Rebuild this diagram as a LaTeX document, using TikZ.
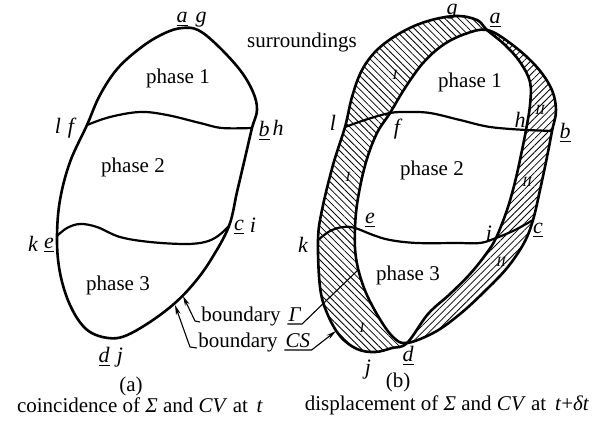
\documentclass[tikz,border=0pt]{standalone}
\usepackage{fontspec}
\setmainfont{Liberation Serif}
\usetikzlibrary{patterns.meta,arrows.meta}

\tikzset{
  outline/.style={line width=1.3pt, line join=round},
  iface/.style={line width=1.1pt},
  ptlabel/.style={font=\fontsize{11}{12}\selectfont\itshape, inner sep=0.5pt},
  phase/.style={font=\fontsize{10.5}{12}\selectfont, inner sep=0.5pt},
  region/.style={font=\fontsize{7}{8}\selectfont\itshape, inner sep=0pt},
  leader/.style={line width=0.55pt},
  hatchone/.style={pattern={Lines[angle=-45,distance=2.4pt,line width=0.4pt]}},
  hatchtwo/.style={pattern={Lines[angle=45,distance=2.4pt,line width=0.4pt]}},
}

% system at t+dt and control volume, closed curves of (b)
\newcommand\sigmacurve{plot[smooth cycle, tension=0.6] coordinates {(487,30) (477,20) (456,16) (428,21) (402,32) (378,49) (362,70) (352,97) (345,127) (333,165) (322,210) (318,240) (320,287) (327,313) (340,336) (357,349) (375,352) (392,348) (407,343) (428,314) (450,294) (470,274) (486,254) (496,238) (507,210) (515,182) (521,155) (526,130) (530,105) (530,82) (520,62) (505,45)}}
\newcommand\cvcurve{plot[smooth cycle, tension=0.6] coordinates {(487,30) (510,43) (535,65) (551,88) (556,110) (552,131) (547,157) (540,190) (533,220) (524,243) (507,268) (484,292) (460,314) (435,332) (407,343) (393,337) (378,316) (364,288) (356,258) (355,228) (358,198) (366,162) (377,133) (390,113) (405,88) (423,63) (443,45) (465,34)}}

\begin{document}
\begin{tikzpicture}[x=0.5pt,y=-0.5pt]
\useasboundingbox (0,0) rectangle (597,422);

% (a) coincidence
\draw[outline] plot[smooth cycle, tension=0.6] coordinates {(87,125) (100,95) (118,68) (143,46) (165,33) (182,28) (198,30) (217,45) (240,70) (253,92) (257,110) (252,128) (245,158) (237,192) (229,226) (212,258) (195,282) (175,303) (150,322) (125,336) (108,338) (90,332) (77,318) (66,295) (59,267) (57,236) (60,200) (70,162)};
\draw[iface] plot[smooth, tension=0.6] coordinates {(87,125) (110,117) (140,112) (167,115) (200,123) (222,128) (252,128)};
\draw[iface] plot[smooth, tension=0.6] coordinates {(57,236) (67,228) (80,224) (97,227) (120,237) (150,242) (185,244) (205,242) (218,236) (229,226)};

\node[ptlabel] (aa) at (182,19) {\underline{a}};
\node[ptlabel] (ag) at (201,20) {g};
\node[ptlabel] (al) at (58,126) {l};
\node[ptlabel] (af) at (71,128) {f};
\node[ptlabel] (ab) at (264,131) {\underline{b}};
\node[ptlabel] (ah) at (278,128) {h};
\node[ptlabel] (ak) at (33,244) {k};
\node[ptlabel] (ae) at (49,245) {\underline{e}};
\node[ptlabel] (ac) at (239,227) {\underline{c}};
\node[ptlabel] (ai) at (253,225) {i};
\node[ptlabel] (ad) at (104,357) {\underline{d}};
\node[ptlabel] (aj) at (120,358) {j};
\node[phase] (aphase1) at (178,78) {phase 1};
\node[phase] (aphase2) at (133,167) {phase 2};
\node[phase] (aphase3) at (118,285) {phase 3};
\node[phase] (surr) at (302,42) {surroundings};

% (b) displacement
\begin{scope}
  \clip (280,0) -- (487,0) -- (487,30) -- (407,343) -- (407,422) -- (280,422) -- cycle;
  \fill[hatchone, even odd rule] \sigmacurve \cvcurve;
\end{scope}
\begin{scope}
  \clip (487,0) -- (597,0) -- (597,422) -- (407,422) -- (407,343) -- (487,30) -- cycle;
  \fill[hatchtwo, even odd rule] \sigmacurve \cvcurve;
\end{scope}
\draw[outline] \sigmacurve;
\draw[outline] \cvcurve;
\draw[iface] plot[smooth, tension=0.6] coordinates {(345,127) (368,119) (390,113) (407,112) (430,113) (460,120) (490,127) (526,130)} -- (552,131);
\draw[iface] plot[smooth, tension=0.6] coordinates {(318,240) (330,231) (343,227) (355,228) (373,235) (390,240) (417,243) (457,243) (480,243) (496,238) (515,230) (533,220)};

\node[ptlabel] (bg) at (452,12) {g};
\node[ptlabel] (ba) at (495,20) {\underline{a}};
\node[ptlabel] (bl) at (333,123) {l};
\node[ptlabel] (bf) at (397,129) {f};
\node[ptlabel] (bh) at (520,120) {h};
\node[ptlabel] (bb) at (565,133) {\underline{b}};
\node[ptlabel] (be) at (370,220) {\underline{e}};
\node[ptlabel] (bk) at (303,245) {k};
\node[ptlabel] (bi) at (489,233) {i};
\node[ptlabel] (bc) at (538,230) {\underline{c}};
\node[ptlabel] (bd) at (408,356) {\underline{d}};
\node[ptlabel] (bj) at (368,370) {j};
\node[phase] (bphase1) at (470,82) {phase 1};
\node[phase] (bphase2) at (432,170) {phase 2};
\node[phase] (bphase3) at (408,275) {phase 3};

\node[region] (r1) at (395,75) {I};
\node[region] (r2) at (348,177) {I};
\node[region] (r3) at (362,328) {I};
\node[region] (r4) at (540,110) {II};
\node[region] (r5) at (527,182) {II};
\node[region] (r6) at (501,262) {II};

% boundary labels with leaders
\node[phase, anchor=base west] (gamtext) at (200,321) {boundary};
\node[phase, anchor=base west, font=\fontsize{10.5}{12}\selectfont\itshape] (gamsym) at ([xshift=2.6pt]gamtext.base east) {Γ};
\node[phase, anchor=base west] (cstext) at (197,347) {boundary};
\node[phase, anchor=base west, font=\fontsize{10.5}{12}\selectfont\itshape] (cssym) at ([xshift=2.6pt]cstext.base east) {CS};
\coordinate (gamtip) at (183,296);
\coordinate (gambend) at (195,0);
\coordinate (gamend) at (358,270);
\coordinate (cstip) at (175,305);
\coordinate (csbend) at (190,0);
\coordinate (csend) at (336,331);

\draw[leader, {Stealth[length=5pt,width=2.4pt]}-] (gamtip) -- (gambend |- gamtext.base west) -- ([yshift=-0.5pt]gamtext.base west);
\draw[leader] ([yshift=-1.5pt]gamsym.base west) -- ([yshift=-1.5pt]gamsym.base east) -- (gamend);
\draw[leader, {Stealth[length=5pt,width=2.4pt]}-] (cstip) -- (csbend |- cstext.base west) -- ([yshift=-0.5pt]cstext.base west);
\draw[leader, -{Stealth[length=5pt,width=2.4pt]}] ([yshift=-1.5pt]cssym.base west) -- ([yshift=-1.5pt]cssym.base east) -- (csend);

% captions
\node[phase] (capa) at (131,386) {(a)};
\node[phase] (texta) at (140,405) {coincidence of \textit{Σ} and \textit{CV} at\, \textit{t}};
\node[phase] (capb) at (398,382) {(b)};
\node[phase] (textb) at (447,405) {displacement of \textit{Σ} and \textit{CV} at\, \textit{t}+\textit{δt}};
\end{tikzpicture}
\end{document}
